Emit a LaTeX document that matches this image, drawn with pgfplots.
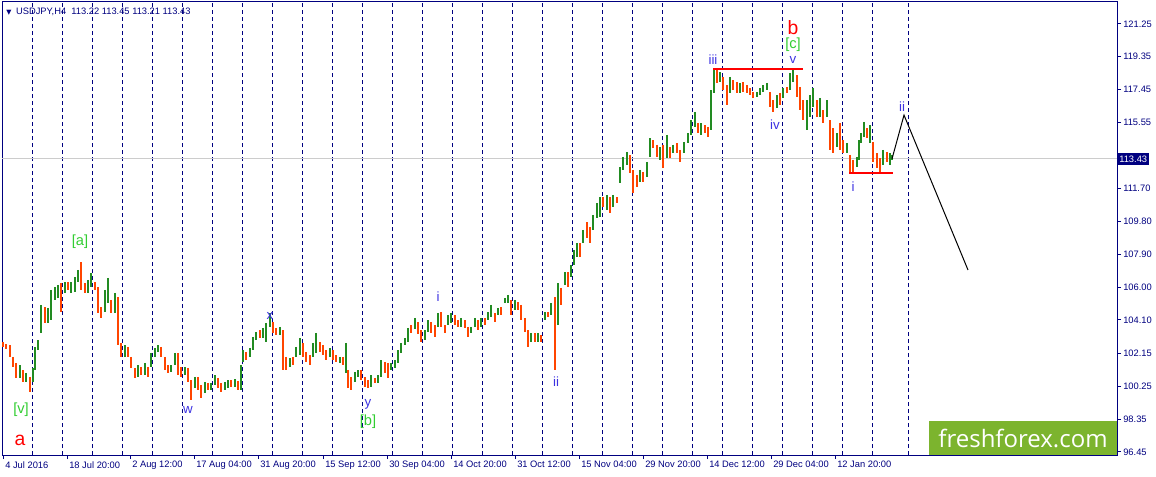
\documentclass[border=0pt]{standalone}
\usepackage{pgfplots}
\pgfplotsset{compat=1.18}
\usepackage{pgfplotstable}
\usepackage{fontspec}
\setmainfont{Liberation Sans}
\newfontfamily\osans{Open Sans}
\newfontfamily\djv{DejaVu Sans}
\definecolor{navy}{RGB}{0,0,128}
\definecolor{cgreen}{RGB}{34,139,34}
\definecolor{corange}{RGB}{255,69,0}
\definecolor{wblue}{RGB}{60,50,225}
\definecolor{wgreen}{RGB}{50,205,50}
\definecolor{wmgreen}{RGB}{124,180,46}

\pgfplotstableread{
x h l
20 101.48 100.73
26 101.02 100.50
33 101.31 100.50
35 102.53 101.19
38 102.93 102.35
41 104.96 103.34
48 104.79 103.92
51 105.83 104.09
55 106.00 105.25
58 106.12 105.37
65 106.29 105.66
71 106.29 105.66
75 106.58 105.71
78 106.99 106.29
88 106.41 105.66
91 106.82 106.00
105 105.83 104.55
108 106.53 105.08
115 105.66 104.50
125 102.64 101.95
138 101.48 100.79
145 101.60 100.90
151 102.18 101.37
155 102.47 101.95
158 102.64 102.24
171 101.48 101.08
175 102.18 101.48
185 101.37 100.90
195 100.79 100.15
205 100.50 99.86
211 100.44 100.03
215 100.90 100.32
225 100.50 100.03
228 100.61 100.15
235 100.67 100.21
241 101.48 100.03
243 102.35 101.66
250 102.47 101.95
253 103.11 102.35
256 103.40 102.93
263 103.63 103.05
266 103.92 102.82
270 104.50 103.69
280 103.69 103.22
290 101.89 101.37
296 102.53 101.95
300 103.05 102.06
313 102.76 101.95
316 103.34 102.18
330 102.47 101.95
340 101.95 101.60
346 102.76 101.02
355 101.08 100.50
358 101.19 100.79
371 100.90 100.21
378 100.90 100.44
381 101.77 100.79
391 101.60 101.19
395 101.77 101.31
398 102.35 101.60
401 102.76 102.18
405 103.05 102.64
408 103.63 102.82
415 104.21 103.57
425 103.51 102.93
428 104.09 103.40
438 104.50 103.69
448 104.38 103.80
451 104.50 103.92
461 104.21 103.69
471 103.69 103.34
475 104.21 103.69
481 104.21 103.69
488 104.55 104.09
491 104.96 104.26
498 104.79 104.38
505 105.37 105.08
508 105.54 105.08
515 105.25 104.67
531 103.34 102.82
538 103.34 102.82
545 104.55 104.09
551 105.08 104.38
558 106.23 103.80
565 106.87 106.12
571 107.28 106.58
574 108.15 107.28
577 108.55 107.74
583 109.31 108.55
593 110.18 109.31
597 110.87 110.00
600 111.22 110.06
607 111.34 110.47
613 111.34 110.64
620 112.96 112.03
623 113.54 112.79
627 113.83 113.08
640 112.79 112.09
647 113.25 112.38
650 114.64 113.54
660 114.12 113.37
667 114.82 113.48
673 114.25 113.77
684 114.41 113.77
688 114.93 114.35
691 115.68 114.82
695 116.15 115.28
701 115.51 114.82
711 117.42 115.10
714 118.58 117.25
720 118.47 117.89
730 118.18 117.25
740 117.83 117.25
757 117.31 117.02
760 117.54 117.13
763 117.71 117.31
767 117.83 117.42
777 117.13 116.38
783 117.54 116.96
790 118.41 117.42
793 118.64 117.89
807 116.84 115.10
810 117.13 115.86
813 117.54 116.44
820 116.96 115.86
827 116.84 115.86
837 114.93 114.12
847 114.35 113.77
857 113.54 112.96
859 114.52 113.37
861 114.93 114.35
864 115.57 114.70
870 115.39 114.35
883 113.95 113.08
890 113.77 113.08
892 113.66 113.37
}\greendata

\pgfplotstableread{
x h l
3 102.82 102.53
6 102.70 102.41
10 102.64 101.95
13 101.95 101.37
16 101.60 100.73
23 101.19 100.50
30 100.79 99.92
45 104.84 103.92
61 106.23 104.55
68 106.29 105.83
81 107.45 105.83
85 106.23 105.66
95 106.29 105.83
98 106.00 104.50
101 104.84 104.21
111 105.25 104.50
118 105.42 102.64
121 102.76 101.95
128 102.53 101.95
131 101.95 101.31
135 101.31 100.73
141 101.37 100.90
148 101.37 100.79
161 102.53 101.95
165 101.95 101.19
168 101.48 101.02
178 102.18 100.90
181 101.37 100.79
188 101.31 100.50
191 100.61 99.45
198 100.79 100.03
201 100.32 99.57
208 100.44 100.03
218 100.73 100.15
221 100.44 99.92
231 100.61 100.21
238 100.56 100.03
246 102.24 101.77
260 103.51 103.05
273 103.97 103.34
276 103.63 103.22
283 103.51 101.19
286 101.95 101.19
293 101.95 101.48
303 102.76 101.95
306 102.24 101.66
310 102.06 101.48
320 102.82 102.24
323 102.64 102.06
326 102.35 101.77
333 102.35 101.77
336 102.06 101.66
343 101.95 101.48
348 101.19 100.15
351 100.79 100.03
361 101.19 100.61
365 100.79 100.21
368 100.61 100.15
375 100.73 100.44
385 101.66 101.02
388 101.60 100.73
411 103.80 103.34
418 103.97 103.28
421 103.51 102.82
431 103.97 103.34
435 103.80 103.11
441 104.55 103.69
445 103.80 103.34
455 104.38 103.80
458 104.09 103.69
465 104.09 103.63
468 103.69 103.11
478 104.09 103.51
485 104.21 103.80
495 104.50 103.97
501 104.84 104.38
511 105.25 104.38
518 105.13 104.67
521 104.96 104.09
525 104.21 103.40
528 103.51 102.53
535 103.34 102.82
541 103.22 102.82
548 104.55 104.26
555 105.42 101.19
561 105.95 104.96
568 106.87 106.00
580 108.55 107.74
587 109.77 108.84
590 109.48 108.55
603 111.22 110.64
610 111.22 110.29
617 111.22 110.87
630 113.66 112.61
633 112.79 111.45
637 112.50 111.80
643 112.67 112.09
653 114.52 114.06
657 114.25 113.54
663 114.25 112.90
670 114.12 113.48
677 114.35 113.77
680 113.95 113.25
698 115.51 114.93
705 115.39 114.93
708 115.28 114.70
717 118.58 117.83
723 118.18 117.42
727 117.71 116.55
733 118.00 117.42
737 117.89 117.25
743 117.89 117.31
747 117.71 117.25
750 117.54 117.13
753 117.31 116.96
770 117.31 116.44
773 116.84 116.15
780 117.25 116.55
787 117.60 117.25
797 118.29 117.02
800 117.60 116.26
803 116.84 115.68
817 116.84 115.86
823 116.26 115.51
830 115.68 113.95
833 115.22 113.77
840 115.51 113.95
843 114.52 113.77
850 113.66 112.61
853 113.37 112.61
867 115.22 114.64
873 114.41 113.25
877 113.77 112.90
880 113.48 112.61
887 113.83 113.25
}\orangedata

\begin{document}
\begin{tikzpicture}
\useasboundingbox (-1.5pt,-15.75pt) rectangle (865.5pt,341.25pt);
\begin{axis}[
  at={(0,0)}, anchor=south west,
  width=836.25pt, height=339.75pt, scale only axis,
  xmin=2, xmax=1117, ymin=96.264, ymax=122.525,
  clip=false,
  axis line style={navy, line width=0.75pt},
  xtick={3,67,130,194,258,323,387,451,515,579,643,707,771,835},
  xticklabels={4 Jul 2016,18 Jul 20:00,2 Aug 12:00,17 Aug 04:00,31 Aug 20:00,15 Sep 12:00,30 Sep 04:00,14 Oct 20:00,31 Oct 12:00,15 Nov 04:00,29 Nov 20:00,14 Dec 12:00,29 Dec 04:00,12 Jan 20:00},
  ytick={121.25,119.35,117.45,115.55,111.70,109.80,107.90,106.00,104.10,102.15,100.25,98.35,96.45},
  yticklabels={121.25,119.35,117.45,115.55,111.70,109.80,107.90,106.00,104.10,102.15,100.25,98.35,96.45},
  xtick pos=left, ytick pos=right, yticklabel pos=right,
  tick align=outside, major tick length=3pt,
  tick style={navy, line width=0.75pt},
  ticklabel style={font=\fontsize{7}{8}\selectfont, text=navy},
  xticklabel style={anchor=north west, inner sep=1.5pt},
  yticklabel style={anchor=west, inner sep=1.5pt},
  extra x ticks={32,62,...,872,908},
  extra x tick labels={},
  extra x tick style={grid=major, major tick length=0pt,
     major grid style={navy, line width=0.75pt, dash pattern=on 3pt off 2.25pt}},
  wl/.style={inner sep=0.3pt},
]
% current price line
\addplot[black!20, line width=0.75pt, forget plot] coordinates {(2,113.43) (1117,113.43)};
% candles
\addplot[draw=none, mark=none, forget plot, error bars/.cd, y dir=minus, y explicit, error mark=none,
  error bar style={draw=cgreen, line width=2.0pt}]
  table[x=x, y=h, y error minus expr=\thisrow{h}-\thisrow{l}] {\greendata};
\addplot[draw=none, mark=none, forget plot, error bars/.cd, y dir=minus, y explicit, error mark=none,
  error bar style={draw=corange, line width=2.0pt}]
  table[x=x, y=h, y error minus expr=\thisrow{h}-\thisrow{l}] {\orangedata};
% red level lines
\addplot[red, line width=1.6pt, forget plot] coordinates {(713,118.64) (803,118.64)};
\addplot[red, line width=1.6pt, forget plot] coordinates {(849,112.61) (893,112.61)};
% projection
\addplot[black, line width=0.75pt, forget plot] coordinates {(892,113.43) (904,115.97) (968,106.99)};
% wave labels
\node[inner sep=0.3pt, text=red, font=\fontsize{14.5}{15}\selectfont] at (axis cs:20,97.13) {a};
\node[inner sep=0.3pt, text=wgreen, font=\fontsize{11}{12}\selectfont] at (axis cs:21,98.87) {[v]};
\node[inner sep=0.3pt, text=wgreen, font=\fontsize{11}{12}\selectfont] at (axis cs:80,108.61) {[a]};
\node[inner sep=0.3pt, text=wblue, font=\fontsize{10}{11}\selectfont] at (axis cs:188,98.87) {w};
\node[inner sep=0.3pt, text=wblue, font=\fontsize{10}{11}\selectfont] at (axis cs:270,104.32) {x};
\node[inner sep=0.3pt, text=wblue, font=\fontsize{10}{11}\selectfont] at (axis cs:368,99.22) {y};
\node[inner sep=0.3pt, text=wgreen, font=\fontsize{11}{12}\selectfont] at (axis cs:368,98.18) {[b]};
\node[inner sep=0.3pt, text=wblue, font=\fontsize{10}{11}\selectfont] at (axis cs:438,105.42) {i};
\node[inner sep=0.3pt, text=wblue, font=\fontsize{10}{11}\selectfont] at (axis cs:556,100.50) {ii};
\node[inner sep=0.3pt, text=wblue, font=\fontsize{10}{11}\selectfont] at (axis cs:713,119.16) {iii};
\node[inner sep=0.3pt, text=red, font=\fontsize{14.5}{15}\selectfont] at (axis cs:793,121.02) {b};
\node[inner sep=0.3pt, text=wgreen, font=\fontsize{11}{12}\selectfont] at (axis cs:793,120.03) {[c]};
\node[inner sep=0.3pt, text=wblue, font=\fontsize{10}{11}\selectfont] at (axis cs:793,119.16) {v};
\node[inner sep=0.3pt, text=wblue, font=\fontsize{10}{11}\selectfont] at (axis cs:775,115.39) {iv};
\node[inner sep=0.3pt, text=wblue, font=\fontsize{10}{11}\selectfont] at (axis cs:853,111.80) {i};
\node[inner sep=0.3pt, text=wblue, font=\fontsize{10}{11}\selectfont] at (axis cs:902,116.44) {ii};
% header
\node[anchor=west, text=navy, font=\fontsize{7}{8}\selectfont, inner sep=0pt] at (axis cs:6,121.945)
  {{\djv\fontsize{5}{6}\selectfont ▼}\hspace{3.5pt}USDJPY,H4\ \ 113.22 113.45 113.21 113.43};
% current price tag
\node[anchor=west, fill=navy, text=white, font=\fontsize{7}{8}\selectfont, inner xsep=1.5pt, inner ysep=1.8pt] at (axis cs:1117,113.43) {113.43};
% watermark
\fill[wmgreen] (axis cs:929,96.264) rectangle (axis cs:1116.5,98.236);
\node[text=white, font=\osans\fontsize{18}{20}\selectfont] at (axis cs:1023,97.25) {freshforex.com};
\end{axis}
\end{tikzpicture}
\end{document}
